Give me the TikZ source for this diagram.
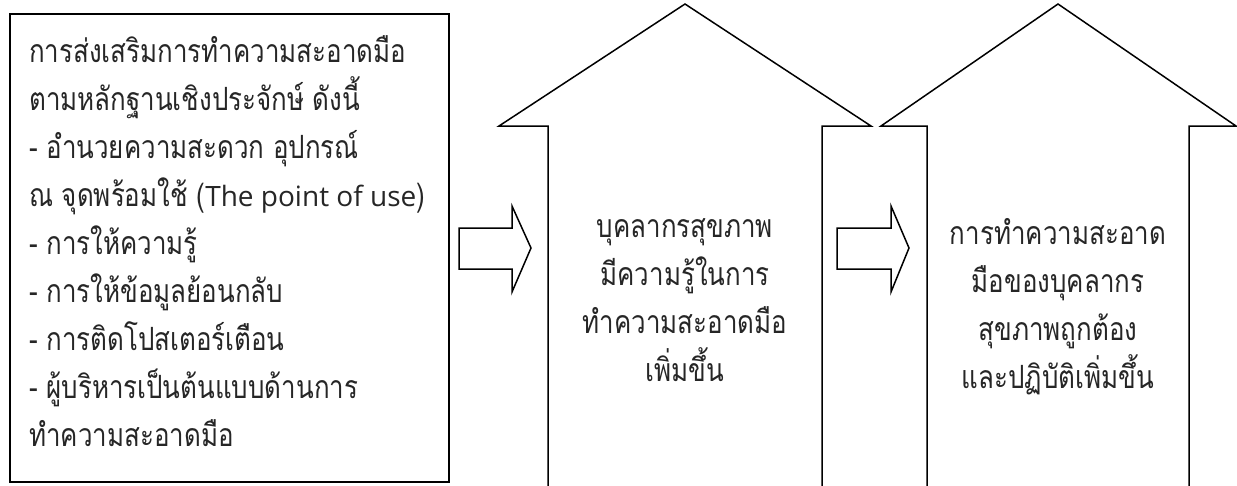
\documentclass[tikz,border=0pt]{standalone}
\usepackage{fontspec}
\newfontfamily\thaifont[Script=Thai, FakeStretch=0.81]{Loma}
\newfontfamily\latinfont{Open Sans}
\tikzset{
  shapeline/.style={draw=black, line width=1.5pt, line join=miter, fill=white},
  txt/.style={font=\thaifont\fontsize{32}{48}\selectfont, inner sep=0pt, text=black!85},
}
\begin{document}
\begin{tikzpicture}[x=1pt,y=-1pt]
\useasboundingbox (0,0) rectangle (1237,485);
\clip (0,0) rectangle (1237,485);
% left box
\node[shapeline, rectangle, anchor=north west, minimum width=439pt, minimum height=468pt, inner sep=0pt] (box) at (9,13) {};
\node[txt, anchor=north west, align=left] (boxtext) at (29,35) {%
การส่งเสริมการทำความสะอาดมือ\\
ตามหลักฐานเชิงประจักษ์ ดังนี้\\
- อำนวยความสะดวก อุปกรณ์\\
ณ จุดพร้อมใช้ ({\latinfont\fontsize{28}{48}\selectfont The point of use})\\
- การให้ความรู้\\
- การให้ข้อมูลย้อนกลับ\\
- การติดโปสเตอร์เตือน\\
- ผู้บริหารเป็นต้นแบบด้านการ\\
ทำความสะอาดมือ};
% big arrow 1
\draw[shapeline] (548,495) -- (548,126) -- (499,126) -- (685,4) -- (871,126) -- (822,126) -- (822,495);
\coordinate (tip1) at (685,4);
\node[txt, anchor=north, align=center] (text1) at (685,218) {%
บุคลากรสุขภาพ\\
มีความรู้ในการ\\
ทำความสะอาดมือ\\
เพิ่มขึ้น};
% big arrow 2
\draw[shapeline] (927,495) -- (927,126) -- (881,126) -- (1058,4) -- (1236,126) -- (1189,126) -- (1189,495);
\coordinate (tip2) at (1058,4);
\node[txt, anchor=north, align=center] (text2) at (1058,218) {%
การทำความสะอาด\\
มือของบุคลากร\\
สุขภาพถูกต้อง\\
และปฏิบัติเพิ่มขึ้น};
% small block arrows
\draw[shapeline] (459,228) -- (512,228) -- (512,206) -- (531,248) -- (512,292) -- (512,269) -- (459,269) -- cycle;
\draw[shapeline] (837,228) -- (891,228) -- (891,206) -- (909,248) -- (891,292) -- (891,269) -- (837,269) -- cycle;
\end{tikzpicture}
\end{document}
